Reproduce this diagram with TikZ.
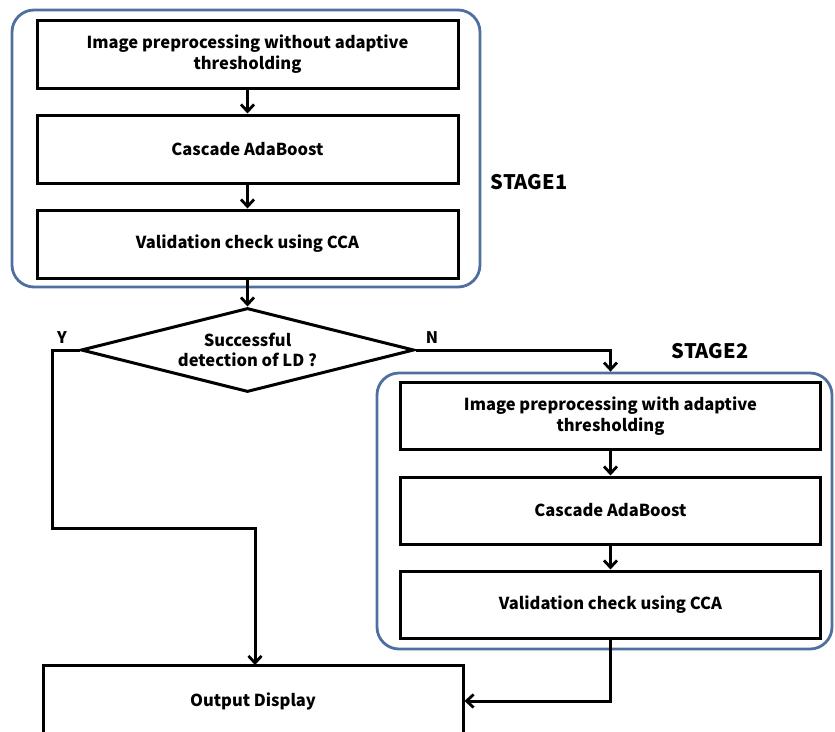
\documentclass[tikz,border=0pt]{standalone}
\usepackage{fontspec}
\setmainfont{Noto Sans CJK KR}
\usetikzlibrary{shapes.geometric,arrows.meta}
\definecolor{stageblue}{HTML}{4F6FA0}
\begin{document}
\begin{tikzpicture}[x=1pt,y=-1pt,
  box/.style={draw=black,line width=3pt,minimum width=420pt,minimum height=67pt,align=center,font=\fontsize{16.5}{20.5}\selectfont\bfseries,inner sep=0pt},
  stagebox/.style={draw=stageblue,line width=2.8pt,rounded corners=22pt},
  conn/.style={line width=3pt,-{Straight Barb[length=7pt,width=13pt,line width=2.8pt]}},
  lbl/.style={font=\fontsize{20}{24}\selectfont\bfseries},
  yn/.style={font=\fontsize{16}{19}\selectfont\bfseries}]
\useasboundingbox (0,0) rectangle (835,731);
\clip (0,0) rectangle (835,731);
% stage frames
\node[stagebox,minimum width=468pt,minimum height=277pt] (st1) at (246,148.5) {};
\node[stagebox,minimum width=455pt,minimum height=276pt] (st2) at (604.5,511) {};
% stage 1 boxes
\node[box,minimum width=421pt,minimum height=68pt] (a1) at (247.5,54) {Image preprocessing without adaptive\\thresholding};
\node[box,minimum width=421pt,minimum height=68pt] (a2) at (247.5,149) {Cascade AdaBoost};
\node[box,minimum width=421pt,minimum height=68pt] (a3) at (247.5,244) {Validation check using CCA};
% decision
\node[draw=black,line width=3pt,diamond,aspect=3.96,minimum width=333pt,minimum height=84pt,inner sep=0pt,align=center,font=\fontsize{16.5}{20.5}\selectfont\bfseries] (dec) at (247.5,350) {Successful\\detection of LD ?};
% stage 2 boxes
\node[box] (b1) at (610.5,416) {Image preprocessing with adaptive\\thresholding};
\node[box] (b2) at (610.5,510.5) {Cascade AdaBoost};
\node[box] (b3) at (610.5,604.5) {Validation check using CCA};
% output
\node[box,minimum height=72pt] (out) at (253,701) {Output Display};
% labels
\node[lbl] (s1) at (529,182) {STAGE1};
\node[lbl] (s2) at (710,351) {STAGE2};
\node[yn] (ly) at (62,338) {Y};
\node[yn] (ln) at (432,338) {N};
% connectors
\coordinate (yl1) at (52,350);
\coordinate (yl2) at (52,528);
\coordinate (yl3) at (255,528);
\coordinate (outtop) at (255,665);
\coordinate (nr) at (610.5,350);
\coordinate (s2bot) at (610.5,701);
\draw[conn] (a1.south) -- (a2.north);
\draw[conn] (a2.south) -- (a3.north);
\draw[conn] (a3.south) -- (dec.north);
\draw[conn] (dec.west) -- (yl1) -- (yl2) -- (yl3) -- (outtop);
\draw[conn] (dec.east) -- (nr) -- (nr |- st2.north);
\draw[conn] (b1.south) -- (b2.north);
\draw[conn] (b2.south) -- (b3.north);
\draw[conn] (b3.south) -- (s2bot) -- (out.east);
\end{tikzpicture}
\end{document}
